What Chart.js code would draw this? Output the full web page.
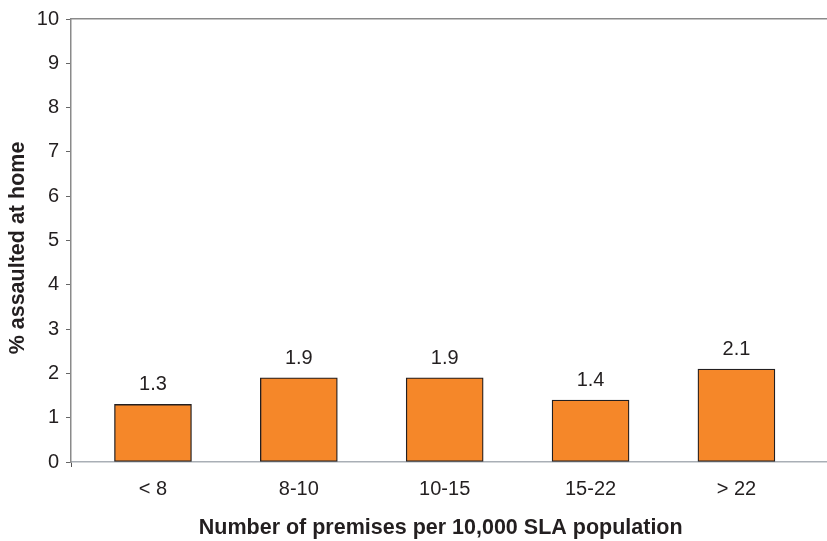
<!DOCTYPE html>
<html>
<head>
<meta charset="utf-8">
<script src="https://cdn.jsdelivr.net/npm/chart.js@4/dist/chart.umd.min.js"></script>
<style>
  html, body { margin: 0; padding: 0; background: #ffffff; }
  #wrap { width: 827px; height: 541px; }
</style>
</head>
<body>
<div id="wrap"><canvas id="chart" width="827" height="541"></canvas></div>
<script>
// Premise density bands and share of people assaulted at home
const categories = ['< 8', '8-10', '10-15', '15-22', '> 22'];
const assaultedAtHome = [1.3, 1.9, 1.9, 1.4, 2.1];
const yTickValues = [0, 1, 2, 3, 4, 5, 6, 7, 8, 9, 10];

const xTitle = 'Number of premises per 10,000 SLA population';
const yTitle = '% assaulted at home';

const FONT = "'Liberation Sans', Arial, Helvetica, sans-serif";
const TEXT = '#231f20';

// Value printed above each bar
const barValueLabels = {
  id: 'barValueLabels',
  afterDatasetsDraw(chart) {
    const ctx = chart.ctx;
    const meta = chart.getDatasetMeta(0);
    ctx.save();
    ctx.font = '20px ' + FONT;
    ctx.fillStyle = TEXT;
    ctx.textAlign = 'center';
    ctx.textBaseline = 'alphabetic';
    meta.data.forEach((bar, i) => {
      ctx.fillText(assaultedAtHome[i].toFixed(1), bar.x, bar.y - 14);
    });
    ctx.restore();
  }
};

// Axis titles: the vertical one sits a little below the plot's middle,
// the horizontal one is centred under the span of the bars
const axisTitles = {
  id: 'axisTitles',
  afterDraw(chart) {
    const ctx = chart.ctx;
    const area = chart.chartArea;
    const x = chart.scales.x;
    ctx.save();
    ctx.font = 'bold 21.5px ' + FONT;
    ctx.fillStyle = TEXT;
    ctx.textAlign = 'center';
    ctx.textBaseline = 'middle';

    const xMid = (x.getPixelForValue(0) + x.getPixelForValue(categories.length - 1)) / 2;
    ctx.fillText(xTitle, xMid - 4, chart.height - 13);

    ctx.translate(18.5, (area.top + area.bottom) / 2 + 7.5);
    ctx.rotate(-Math.PI / 2);
    ctx.fillText(yTitle, 0, 0);
    ctx.restore();
  }
};

const xMin = -0.562;
const xMax = 4.621;

new Chart(document.getElementById('chart'), {
  type: 'bar',
  data: {
    datasets: [{
      data: assaultedAtHome.map((v, i) => ({ x: i, y: v })),
      backgroundColor: '#f58729',
      borderColor: '#231f20',
      borderWidth: 1.3,
      borderSkipped: false,
      barThickness: 77
    }]
  },
  options: {
    responsive: false,
    devicePixelRatio: 1,
    animation: false,
    layout: { padding: { top: 18, right: 0, bottom: 0, left: 0 } },
    plugins: {
      legend: { display: false },
      tooltip: { enabled: false }
    },
    scales: {
      x: {
        type: 'linear',
        position: 'bottom',
        offset: false,
        min: xMin,
        max: xMax,
        afterBuildTicks(scale) {
          scale.ticks = [{ value: xMin }].concat(categories.map((_, i) => ({ value: i })));
        },
        afterFit(scale) { scale.height = 79; },
        ticks: {
          callback: (v) => (categories[v] !== undefined ? categories[v] : ''),
          font: { family: FONT, size: 20 },
          color: TEXT,
          padding: 10,
          maxRotation: 0,
          autoSkip: false
        },
        grid: {
          offset: false,
          drawOnChartArea: false,
          drawTicks: true,
          tickLength: 5,
          color: (ctx) => (ctx.tick && ctx.tick.value < 0 ? '#555555' : 'rgba(0,0,0,0)')
        },
        border: { display: true, color: '#a9afb6', width: 1.5 },
        title: { display: false }
      },
      xTop: {
        type: 'linear',
        position: 'top',
        afterFit(scale) { scale.height = 0; },
        ticks: { display: false },
        grid: { display: false },
        border: { display: true, color: '#8a8a8a', width: 1.5 }
      },
      y: {
        min: 0,
        max: 10,
        afterBuildTicks(scale) {
          scale.ticks = yTickValues.map((v) => ({ value: v }));
        },
        afterFit(scale) { scale.width = 71; },
        ticks: {
          font: { family: FONT, size: 20 },
          color: TEXT,
          padding: 7
        },
        grid: {
          drawOnChartArea: false,
          drawTicks: true,
          tickLength: 5,
          color: '#666666'
        },
        border: { display: true, color: '#8a8a8a', width: 1.5 },
        title: { display: false }
      }
    }
  },
  plugins: [barValueLabels, axisTitles]
});
</script>
</body>
</html>
